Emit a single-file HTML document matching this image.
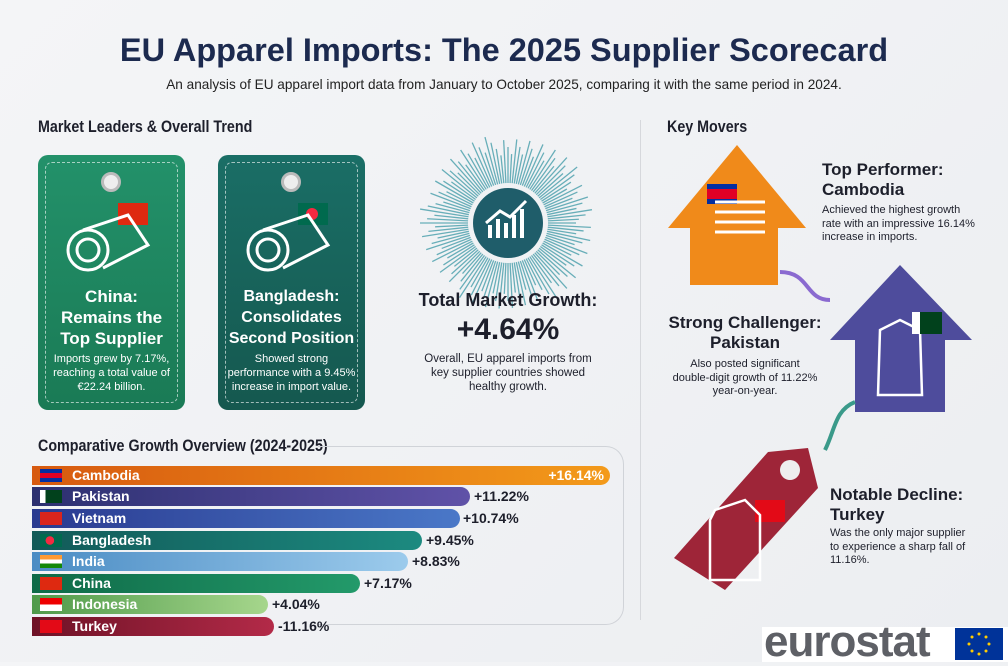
<!DOCTYPE html>
<html><head><meta charset="utf-8"><style>
*{margin:0;padding:0;box-sizing:border-box}
body{width:1008px;height:662px;overflow:hidden;background:linear-gradient(135deg,#f4f5f7,#eceef1);font-family:"Liberation Sans",sans-serif;position:relative;color:#1d1f2b}
.a{position:absolute}
.t{font-weight:bold}
.sx{transform:scaleX(.84);transform-origin:left top;white-space:nowrap}
.bar{position:absolute;left:32px;height:19px;border-radius:0 10px 10px 0;color:#fff;font-weight:bold;font-size:14px;line-height:19px}
.bar span.f{position:absolute;left:8px;top:3px;width:22px;height:13px}
.bar span.n{position:absolute;left:40px}
.v{position:absolute;font-weight:bold;font-size:14px;line-height:19px;color:#1d1f2b}
.tag{position:absolute;border-radius:10px;color:#fff;text-align:center}
.tag .in{position:absolute;left:7px;top:7px;right:7px;bottom:7px;border:1.5px dashed rgba(255,255,255,.6);border-radius:7px}
</style></head><body>
<div class="a t" style="left:0;width:1008px;top:32px;text-align:center;font-size:32.5px;color:#1c2a4f">EU Apparel Imports: The 2025 Supplier Scorecard</div>
<div class="a" style="left:0;width:1008px;top:77px;text-align:center;font-size:13.6px;color:#222">An analysis of EU apparel import data from January to October 2025, comparing it with the same period in 2024.</div>
<div class="a" style="left:640px;top:120px;width:1px;height:500px;background:#d6d8dc"></div>

<div class="a t sx" style="left:38px;top:117px;font-size:17px">Market Leaders &amp; Overall Trend</div>
<div class="tag" style="left:38px;top:155px;width:147px;height:255px;background:linear-gradient(#23916a,#1a7a55)"><div class="in"></div>
<div class="a" style="left:63px;top:17px;width:20px;height:20px;border-radius:50%;background:#eee;border:3px solid #bbb"></div>
<svg class="a" style="left:25px;top:45px" width="100" height="80"><rect x="55" y="3" width="30" height="22" fill="#de2910"/><circle cx="25" cy="50" r="20" fill="none" stroke="#fff" stroke-width="3"/><circle cx="25" cy="50" r="11" fill="none" stroke="#fff" stroke-width="3"/><path d="M20 30 L65 15 L85 45 L40 68" fill="none" stroke="#fff" stroke-width="3"/></svg>
<div class="a t" style="left:0;width:147px;top:131px;font-size:17px;line-height:21px">China:<br>Remains the<br>Top Supplier</div>
<div class="a" style="left:0;width:147px;top:197px;font-size:11px;line-height:14px">Imports grew by 7.17%,<br>reaching a total value of<br>€22.24 billion.</div></div>
<div class="tag" style="left:218px;top:155px;width:147px;height:255px;background:linear-gradient(#1a6e66,#15584f)"><div class="in"></div>
<div class="a" style="left:63px;top:17px;width:20px;height:20px;border-radius:50%;background:#eee;border:3px solid #bbb"></div>
<svg class="a" style="left:25px;top:45px" width="100" height="80"><rect x="55" y="3" width="30" height="22" fill="#006a4e"/><circle cx="69" cy="14" r="6" fill="#f42a41"/><circle cx="25" cy="50" r="20" fill="none" stroke="#fff" stroke-width="3"/><circle cx="25" cy="50" r="11" fill="none" stroke="#fff" stroke-width="3"/><path d="M20 30 L65 15 L85 45 L40 68" fill="none" stroke="#fff" stroke-width="3"/></svg>
<div class="a t" style="left:0;width:147px;top:131px;font-size:16px;line-height:21px">Bangladesh:<br>Consolidates<br>Second Position</div>
<div class="a" style="left:0;width:147px;top:197px;font-size:11px;line-height:14px">Showed strong<br>performance with a 9.45%<br>increase in import value.</div></div>

<svg class="a" style="left:418px;top:135px" width="180" height="180">
<g id="rays" stroke="#3b98a5" stroke-width="1.3" opacity=".75"></g>
<circle cx="90" cy="88" r="35" fill="#1f5d6a"/>
<path d="M72 103 V90 M80 103 V84 M88 103 V88 M96 103 V80 M104 103 V74" stroke="#fff" stroke-width="4"/>
<path d="M68 88 L82 76 L92 82 L108 66" stroke="#fff" stroke-width="3" fill="none"/></svg>
<div class="a t" style="left:410px;top:290px;width:196px;text-align:center;font-size:18px">Total Market Growth:</div>
<div class="a t" style="left:410px;top:313px;width:196px;text-align:center;font-size:30px">+4.64%</div>
<div class="a" style="left:410px;top:352px;width:196px;text-align:center;font-size:11.5px;line-height:14px">Overall, EU apparel imports from<br>key supplier countries showed<br>healthy growth.</div>

<div class="a t sx" style="left:38px;top:436px;font-size:17px">Comparative Growth Overview (2024-2025)</div>
<div class="a" style="left:318px;top:446px;width:306px;height:179px;border:1px solid #d0d3d8;border-left:none;border-radius:0 18px 18px 0;"></div>
<div class="bar" style="top:466px;width:578px;background:linear-gradient(90deg,#d75a10,#f39a1a)"><span class="f" style="background:linear-gradient(#032ea1 30%,#e00025 30%,#e00025 70%,#032ea1 70%)"></span><span class="n">Cambodia</span><span style="position:absolute;right:6px">+16.14%</span></div>
<div class="bar" style="top:487px;width:438px;background:linear-gradient(90deg,#2c3070,#6052a8)"><span class="f" style="background:linear-gradient(90deg,#fff 25%,#01411c 25%)"></span><span class="n">Pakistan</span></div><div class="v" style="left:474px;top:487px">+11.22%</div>
<div class="bar" style="top:509px;width:428px;background:linear-gradient(90deg,#2a3a90,#4a78c8)"><span class="f" style="background:#da251d"></span><span class="n">Vietnam</span></div><div class="v" style="left:463px;top:509px">+10.74%</div>
<div class="bar" style="top:531px;width:390px;background:linear-gradient(90deg,#125a58,#1c8a80)"><span class="f" style="background:radial-gradient(circle at 45% 50%,#f42a41 30%,#006a4e 32%)"></span><span class="n">Bangladesh</span></div><div class="v" style="left:426px;top:531px">+9.45%</div>
<div class="bar" style="top:552px;width:376px;background:linear-gradient(90deg,#4b8cc4,#9ccbec)"><span class="f" style="background:linear-gradient(#f93 33%,#fff 33%,#fff 66%,#138808 66%)"></span><span class="n">India</span></div><div class="v" style="left:412px;top:552px">+8.83%</div>
<div class="bar" style="top:574px;width:328px;background:linear-gradient(90deg,#0f6a48,#239a6a)"><span class="f" style="background:#de2910"></span><span class="n">China</span></div><div class="v" style="left:364px;top:574px">+7.17%</div>
<div class="bar" style="top:595px;width:236px;background:linear-gradient(90deg,#4f9a4a,#a6d68c)"><span class="f" style="background:linear-gradient(#e00 50%,#fff 50%)"></span><span class="n">Indonesia</span></div><div class="v" style="left:272px;top:595px">+4.04%</div>
<div class="bar" style="top:617px;width:242px;background:linear-gradient(90deg,#6e1226,#b32a48)"><span class="f" style="background:#e30a17"></span><span class="n">Turkey</span></div><div class="v" style="left:278px;top:617px">-11.16%</div>

<div class="a t sx" style="left:667px;top:117px;font-size:17px">Key Movers</div>
<svg class="a" style="left:660px;top:140px" width="348" height="470">
<path d="M8 88 L77 5 L146 88 L118 88 L118 145 L30 145 L30 88 Z" fill="#f08a1a"/>
<rect x="47" y="44" width="30" height="20" fill="#032ea1"/><rect x="47" y="49" width="30" height="10" fill="#e00025"/>
<path d="M55 62 h50 M55 72 h50 M55 82 h50 M55 92 h50" stroke="#fff" stroke-width="3"/>
<path d="M120 132 C150 132 145 160 170 160" stroke="#8a6ad0" stroke-width="4" fill="none"/>
<path d="M170 200 L240 125 L312 200 L285 200 L285 272 L195 272 L195 200 Z" fill="#4e4c9c"/>
<path d="M220 190 L240 180 L260 190 L262 255 L218 255 Z" fill="none" stroke="#fff" stroke-width="2.5"/>
<rect x="252" y="172" width="30" height="22" fill="#01411c"/><rect x="252" y="172" width="8" height="22" fill="#fff"/>
<path d="M195 262 C175 270 175 290 165 310" stroke="#3a9a8a" stroke-width="4" fill="none"/>
<path d="M14 418 L108 312 L148 308 L158 348 L65 450 Z" fill="#9e2538"/>
<circle cx="130" cy="330" r="10" fill="#eee"/>
<rect x="95" y="360" width="30" height="22" fill="#e30a17"/>
<path d="M55 370 L85 360 L100 375 L100 440 L50 440 L50 380 Z" fill="none" stroke="#fff" stroke-width="2.5"/>
</svg>
<div class="a t" style="left:822px;top:160px;font-size:17px;line-height:20px">Top Performer:<br>Cambodia</div>
<div class="a" style="left:822px;top:204px;font-size:11px;line-height:13.5px">Achieved the highest growth<br>rate with an impressive 16.14%<br>increase in imports.</div>
<div class="a t" style="left:655px;top:313px;width:180px;text-align:center;font-size:17px;line-height:20px">Strong Challenger:<br>Pakistan</div>
<div class="a" style="left:655px;top:358px;width:180px;text-align:center;font-size:11px;line-height:13.5px">Also posted significant<br>double-digit growth of 11.22%<br>year-on-year.</div>
<div class="a t" style="left:830px;top:485px;font-size:17px;line-height:20px">Notable Decline:<br>Turkey</div>
<div class="a" style="left:830px;top:527px;font-size:11px;line-height:13.5px">Was the only major supplier<br>to experience a sharp fall of<br>11.16%.</div>

<div class="a" style="left:762px;top:627px;width:246px;height:35px;background:#fff"></div>
<div class="a t" style="left:764px;top:620px;font-size:44px;color:#5e6066;letter-spacing:-1px;line-height:44px">eurostat</div>
<div class="a" style="left:955px;top:628px;width:48px;height:32px;background:#039"><svg width="48" height="32"><g fill="#fc0"><circle cx="24" cy="6" r="1.5"/><circle cx="24" cy="26" r="1.5"/><circle cx="14" cy="16" r="1.5"/><circle cx="34" cy="16" r="1.5"/><circle cx="17" cy="9" r="1.5"/><circle cx="31" cy="9" r="1.5"/><circle cx="17" cy="23" r="1.5"/><circle cx="31" cy="23" r="1.5"/></g></svg></div>
<script>
var g=document.getElementById('rays'),s='';
for(var i=0;i<120;i++){var a=i*Math.PI*2/120,r1=40,r2=68+((i*37)%22);s+='<line x1="'+(90+r1*Math.cos(a))+'" y1="'+(88+r1*Math.sin(a))+'" x2="'+(90+r2*Math.cos(a))+'" y2="'+(88+r2*Math.sin(a))+'"/>';}
g.innerHTML=s;
</script>
</body></html>
